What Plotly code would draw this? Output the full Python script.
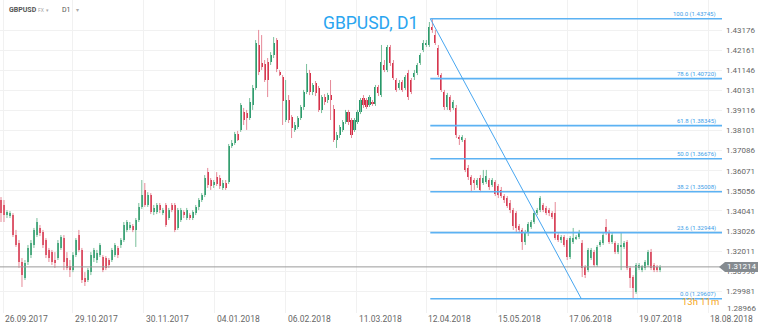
import plotly.graph_objects as go

# ---------------- data ----------------
opens = [1.3459,1.3434,1.3383,1.3378,1.3383,1.3282,1.3242,1.3146,1.3065,1.3146,
         1.3181,1.3232,1.3282,1.3318,1.3297,1.3257,1.3207,1.3196,1.3156,1.3166,
         1.3217,1.3267,1.3166,1.3126,1.3105,1.3181,1.3282,1.3207,1.3065,1.3055,
         1.3095,1.3166,1.3156,1.3181,1.3171,1.3166,1.3156,1.3156,1.3181,1.3217,
         1.3232,1.3257,1.3308,1.3318,1.3328,1.3308,1.3358,1.3424,1.3510,1.3434,
         1.3484,1.3398,1.3398,1.3434,1.3393,1.3434,1.3368,1.3434,1.3434,1.3318,
         1.3358,1.3398,1.3368,1.3383,1.3368,1.3393,1.3424,1.3459,1.3484,1.3600,
         1.3560,1.3535,1.3575,1.3570,1.3520,1.3545,1.3550,1.3732,1.3747,1.3792,
         1.3813,1.3904,1.3898,1.3873,1.3939,1.4025,1.4242,1.4151,1.4146,1.4156,
         1.4156,1.4191,1.4267,1.4105,1.4080,1.3863,1.3964,1.3878,1.3813,1.3828,
         1.3873,1.3929,1.4005,1.4100,1.4005,1.4050,1.4025,1.3914,1.3979,1.3964,
         1.3989,1.3919,1.3762,1.3787,1.3813,1.3853,1.3904,1.3863,1.3813,1.3853,
         1.3904,1.3974,1.3964,1.3939,1.3954,1.3944,1.4030,1.3989,1.4141,1.4116,
         1.4232,1.4151,1.4065,1.4025,1.4055,1.4025,1.4100,1.4065,1.4080,1.4100,
         1.4151,1.4217,1.4242,1.4242,1.4333,1.4292,1.4227,1.4090,1.4005,1.3929,
         1.3979,1.3924,1.3924,1.3777,1.3762,1.3762,1.3621,1.3575,1.3560,1.3535,
         1.3570,1.3545,1.3550,1.3560,1.3535,1.3550,1.3530,1.3510,1.3479,1.3469,
         1.3444,1.3408,1.3393,1.3328,1.3308,1.3247,1.3292,1.3323,1.3348,1.3393,
         1.3408,1.3434,1.3419,1.3408,1.3393,1.3393,1.3282,1.3257,1.3272,1.3257,
         1.3171,1.3247,1.3267,1.3272,1.3242,1.3121,1.3105,1.3166,1.3196,1.3131,
         1.3232,1.3242,1.3323,1.3297,1.3247,1.3242,1.3196,1.3222,1.3222,1.3247,
         1.3116,1.3070,1.2995,1.3116,1.3105,1.3116,1.3131,1.3196,1.3131,1.3121,
         1.3105]
highs = [1.3474,1.3459,1.3408,1.3403,1.3393,1.3308,1.3257,1.3166,1.3156,1.3232,
         1.3257,1.3318,1.3368,1.3333,1.3308,1.3267,1.3217,1.3207,1.3196,1.3257,
         1.3282,1.3282,1.3196,1.3156,1.3196,1.3267,1.3308,1.3217,1.3095,1.3116,
         1.3196,1.3217,1.3207,1.3242,1.3181,1.3176,1.3166,1.3217,1.3242,1.3227,
         1.3267,1.3348,1.3358,1.3348,1.3338,1.3368,1.3444,1.3560,1.3545,1.3499,
         1.3494,1.3434,1.3444,1.3444,1.3419,1.3444,1.3419,1.3444,1.3444,1.3419,
         1.3419,1.3408,1.3419,1.3393,1.3408,1.3434,1.3469,1.3494,1.3585,1.3621,
         1.3570,1.3560,1.3600,1.3585,1.3560,1.3560,1.3742,1.3762,1.3803,1.3808,
         1.3949,1.3924,1.3914,1.3974,1.4040,1.4267,1.4318,1.4292,1.4166,1.4176,
         1.4206,1.4282,1.4277,1.4116,1.4090,1.4065,1.3989,1.3888,1.3853,1.3883,
         1.3939,1.4015,1.4146,1.4116,1.4050,1.4060,1.4035,1.3989,1.3994,1.4000,
         1.4065,1.3939,1.3803,1.3838,1.3863,1.3914,1.3914,1.3873,1.3873,1.3914,
         1.3974,1.3989,1.3974,1.3989,1.3964,1.4040,1.4040,1.4242,1.4166,1.4242,
         1.4242,1.4166,1.4075,1.4065,1.4065,1.4090,1.4116,1.4075,1.4116,1.4151,
         1.4201,1.4267,1.4267,1.4358,1.43745,1.4318,1.4242,1.4100,1.4015,1.4000,
         1.3989,1.3964,1.3939,1.3787,1.3787,1.3772,1.3636,1.3585,1.3570,1.3570,
         1.3585,1.3611,1.3611,1.3570,1.3570,1.3560,1.3540,1.3525,1.3489,1.3479,
         1.3459,1.3419,1.3403,1.3338,1.3318,1.3308,1.3348,1.3358,1.3403,1.3419,
         1.3479,1.3444,1.3429,1.3419,1.3403,1.3449,1.3292,1.3282,1.3282,1.3267,
         1.3277,1.3318,1.3282,1.3308,1.3257,1.3131,1.3217,1.3217,1.3207,1.3232,
         1.3257,1.3292,1.3363,1.3308,1.3292,1.3252,1.3242,1.3297,1.3252,1.3257,
         1.3126,1.3080,1.3141,1.3141,1.3131,1.3156,1.3207,1.3212,1.3141,1.3131,
         1.3131]
lows = [1.3348,1.3348,1.3368,1.3368,1.3272,1.3222,1.3116,1.3020,1.3055,1.3131,
        1.3166,1.3217,1.3272,1.3277,1.3217,1.3166,1.3146,1.3131,1.3116,1.3156,
        1.3207,1.3105,1.3105,1.3070,1.3095,1.3171,1.3196,1.3040,1.3025,1.3045,
        1.3080,1.3146,1.3141,1.3171,1.3095,1.3105,1.3116,1.3146,1.3171,1.3166,
        1.3217,1.3247,1.3297,1.3308,1.3297,1.3222,1.3348,1.3414,1.3424,1.3424,
        1.3388,1.3383,1.3388,1.3393,1.3383,1.3323,1.3358,1.3398,1.3297,1.3308,
        1.3348,1.3368,1.3358,1.3358,1.3358,1.3383,1.3408,1.3449,1.3474,1.3520,
        1.3510,1.3520,1.3530,1.3515,1.3510,1.3510,1.3540,1.3722,1.3737,1.3757,
        1.3803,1.3838,1.3813,1.3863,1.3914,1.4015,1.4090,1.4116,1.4055,1.3979,
        1.4141,1.4176,1.4105,1.4085,1.3838,1.3853,1.3848,1.3772,1.3803,1.3818,
        1.3863,1.3914,1.3994,1.3989,1.3989,1.3984,1.3904,1.3898,1.3939,1.3949,
        1.3863,1.3752,1.3722,1.3772,1.3803,1.3843,1.3838,1.3772,1.3803,1.3843,
        1.3893,1.3924,1.3919,1.3929,1.3934,1.3934,1.3984,1.3979,1.4105,1.4105,
        1.4136,1.4065,1.4005,1.4015,1.4005,1.4015,1.3964,1.3994,1.4065,1.4090,
        1.4141,1.4206,1.4232,1.4232,1.4303,1.4242,1.4080,1.4005,1.3914,1.3914,
        1.3904,1.3914,1.3772,1.3737,1.3752,1.3600,1.3560,1.3499,1.3510,1.3520,
        1.3499,1.3535,1.3540,1.3510,1.3525,1.3479,1.3469,1.3469,1.3444,1.3419,
        1.3393,1.3308,1.3297,1.3292,1.3207,1.3232,1.3277,1.3313,1.3338,1.3383,
        1.3398,1.3398,1.3383,1.3378,1.3363,1.3257,1.3247,1.3242,1.3222,1.3156,
        1.3161,1.3237,1.3257,1.3262,1.3070,1.3065,1.3095,1.3156,1.3121,1.3121,
        1.3222,1.3232,1.3282,1.3237,1.3237,1.3186,1.3186,1.3105,1.3212,1.3105,
        1.3015,1.29607,1.2985,1.3105,1.3095,1.3105,1.3121,1.3105,1.3095,1.3095,
        1.3095]
closes = [1.3393,1.3383,1.3398,1.3393,1.3282,1.3232,1.3146,1.3080,1.3141,1.3217,
          1.3242,1.3308,1.3348,1.3292,1.3232,1.3181,1.3166,1.3146,1.3146,1.3242,
          1.3272,1.3146,1.3116,1.3105,1.3181,1.3257,1.3207,1.3055,1.3045,1.3105,
          1.3181,1.3207,1.3191,1.3232,1.3105,1.3116,1.3131,1.3207,1.3232,1.3181,
          1.3257,1.3333,1.3348,1.3333,1.3308,1.3358,1.3424,1.3484,1.3434,1.3484,
          1.3398,1.3419,1.3434,1.3408,1.3408,1.3333,1.3408,1.3408,1.3308,1.3408,
          1.3408,1.3383,1.3408,1.3368,1.3398,1.3424,1.3459,1.3484,1.3570,1.3535,
          1.3530,1.3550,1.3540,1.3530,1.3545,1.3520,1.3732,1.3747,1.3792,1.3762,
          1.3939,1.3863,1.3873,1.3954,1.4025,1.4252,1.4105,1.4131,1.4065,1.4065,
          1.4191,1.4252,1.4121,1.4095,1.3959,1.3964,1.3863,1.3823,1.3838,1.3873,
          1.3929,1.4005,1.4100,1.4005,1.4040,1.4000,1.3914,1.3979,1.3954,1.3989,
          1.3964,1.3762,1.3787,1.3828,1.3853,1.3904,1.3853,1.3787,1.3863,1.3904,
          1.3964,1.3939,1.3929,1.3979,1.3944,1.4030,1.4000,1.4156,1.4116,1.4232,
          1.4151,1.4075,1.4015,1.4050,1.4015,1.4080,1.3979,1.4005,1.4100,1.4141,
          1.4191,1.4252,1.4252,1.4333,1.4318,1.4252,1.4090,1.4015,1.3929,1.3989,
          1.3914,1.3954,1.3787,1.3772,1.3777,1.3610,1.3575,1.3535,1.3545,1.3560,
          1.3510,1.3570,1.3580,1.3525,1.3560,1.3489,1.3484,1.3479,1.3459,1.3429,
          1.3408,1.3328,1.3318,1.3308,1.3247,1.3292,1.3338,1.3348,1.3393,1.3408,
          1.3469,1.3408,1.3393,1.3393,1.3373,1.3267,1.3257,1.3272,1.3232,1.3171,
          1.3267,1.3267,1.3272,1.3292,1.3116,1.3080,1.3207,1.3207,1.3131,1.3222,
          1.3247,1.3282,1.3292,1.3247,1.3282,1.3196,1.3232,1.3232,1.3242,1.3116,
          1.3065,1.3015,1.3131,1.3131,1.3126,1.3146,1.3196,1.3116,1.3105,1.3105,
          1.31214]

date_labels = ["26.09.2017", "29.10.2017", "30.11.2017", "04.01.2018", "06.02.2018",
               "11.03.2018", "12.04.2018", "15.05.2018", "17.06.2018", "19.07.2018",
               "18.08.2018"]
date_bar_index = [0.67, 24.0, 47.67, 71.33, 95.0, 118.67, 142.0, 165.33, 189.0, 212.33, 236.0]

price_ticks = [1.43176, 1.42161, 1.41146, 1.40131, 1.39116, 1.38101, 1.37086, 1.36071,
               1.35056, 1.34041, 1.33026, 1.32011, 1.30996, 1.29981, 1.28966]

fib_ratios = ["100.0", "78.6", "61.8", "50.0", "38.2", "23.6", "0.0"]
fib_prices = [1.43745, 1.40720, 1.38345, 1.36676, 1.35008, 1.32944, 1.29607]
fib_start_bar = 143.3
fib_end_bar = 193.7
last_price = 1.31214
symbol_title = "GBPUSD, D1"
countdown = "13h 11m"

# ---------------- figure ----------------
n = len(closes)
idx = list(range(n))
Y_MIN, Y_MAX = 1.28885, 1.44691
X_MIN, X_MAX = -1/3, 240.67

UP_BODY, DN_BODY = "#25976a", "#d52c45"
UP_WICK, DN_WICK = "#79bf9b", "#e68a98"

fig = go.Figure()

# wicks
for up, col in ((True, UP_WICK), (False, DN_WICK)):
    wx, wy = [], []
    for i in idx:
        if (closes[i] >= opens[i]) == up:
            wx += [i, i, None]
            wy += [lows[i], highs[i], None]
    fig.add_trace(go.Scatter(x=wx, y=wy, mode="lines", line=dict(color=col, width=1),
                             hoverinfo="skip", showlegend=False))

# bodies
base = [min(o, c) for o, c in zip(opens, closes)]
height = [max(abs(c - o), 0.00025) for o, c in zip(opens, closes)]
colors = [UP_BODY if c >= o else DN_BODY for o, c in zip(opens, closes)]
fig.add_trace(go.Bar(x=idx, y=height, base=base, width=0.68,
                     marker=dict(color=colors, line=dict(width=0)),
                     showlegend=False, hoverinfo="skip"))

FIB_COL = "#5cb2f3"
shapes = []
# current price line
shapes.append(dict(type="line", xref="paper", yref="y", x0=0, x1=1, y0=last_price, y1=last_price,
                   line=dict(color="#9a9a9a", width=1), layer="above"))
# fib lines
for p in fib_prices:
    shapes.append(dict(type="line", xref="x", yref="y", x0=fib_start_bar, x1=X_MAX, y0=p, y1=p,
                       line=dict(color=FIB_COL, width=1.6), layer="above"))
# diagonal of fib tool
shapes.append(dict(type="line", xref="x", yref="y", x0=fib_start_bar, x1=fib_end_bar,
                   y0=fib_prices[0], y1=fib_prices[-1],
                   line=dict(color="#47a6f0", width=1), layer="above"))

# price tag (paper coords)
PLOT_W = 722.0
PLOT_H = 313.0
yp = (last_price - Y_MIN) / (Y_MAX - Y_MIN)
hh = 5.0 / PLOT_H
tip = 719 / PLOT_W
bl = 725 / PLOT_W
br = 758 / PLOT_W
shapes.append(dict(type="path", xref="paper", yref="paper",
                   path=f"M {tip} {yp} L {bl} {yp+hh} L {br} {yp+hh} L {br} {yp-hh} L {bl} {yp-hh} Z",
                   fillcolor="#858b90", line=dict(width=0), layer="above"))

ann = []
for lab, xi in zip(date_labels, date_bar_index):
    ann.append(dict(x=xi, y=0, xref="x", yref="paper", text=lab, showarrow=False,
                    xanchor="left", yanchor="top", yshift=1,
                    font=dict(family="Roboto", size=8.5, color="#666666")))
for r, p in zip(fib_ratios, fib_prices):
    ann.append(dict(x=718 / PLOT_W, y=p, xref="paper", yref="y", text=f"{r} ({p:.5f})",
                    showarrow=False, xanchor="right", yanchor="bottom", yshift=-1,
                    font=dict(family="Roboto", size=6, color="#3d9ee8")))
ann.append(dict(x=(bl + br) / 2, y=yp, xref="paper", yref="paper", text=f"{last_price:.5f}",
                showarrow=False, xanchor="center", yanchor="middle",
                font=dict(family="Roboto", size=8, color="#ffffff")))
# lowest price label sits slightly above the plot edge, as in the reference
ann.append(dict(x=1, y=1 - 308 / PLOT_H, xref="paper", yref="paper",
                text=f"{price_ticks[-1]:.5f}", showarrow=False, xanchor="left",
                yanchor="middle", xshift=3,
                font=dict(family="Roboto", size=8, color="#666666")))
ann.append(dict(x=321 / PLOT_W, y=1 - 23 / PLOT_H, xref="paper", yref="paper", text=symbol_title,
                showarrow=False, xanchor="left", yanchor="middle",
                font=dict(family="Roboto", size=17.5, color="#2aa5f0")))
ann.append(dict(x=721 / PLOT_W, y=1 - 301 / PLOT_H, xref="paper", yref="paper", text=countdown,
                showarrow=False, xanchor="right", yanchor="middle",
                font=dict(family="Roboto", size=9.5, color="#f5a623")))
# header
ann.append(dict(x=7 / PLOT_W, y=1 - 10 / PLOT_H, xref="paper", yref="paper", text="<b>GBPUSD</b>",
                showarrow=False, xanchor="left", yanchor="middle",
                font=dict(family="Roboto", size=7, color="#555555")))
ann.append(dict(x=36 / PLOT_W, y=1 - 10 / PLOT_H, xref="paper", yref="paper", text="FX  \u25be",
                showarrow=False, xanchor="left", yanchor="middle",
                font=dict(family="Roboto", size=5, color="#aaaaaa")))
ann.append(dict(x=60 / PLOT_W, y=1 - 10 / PLOT_H, xref="paper", yref="paper", text="D1",
                showarrow=False, xanchor="left", yanchor="middle",
                font=dict(family="Roboto", size=7, color="#555555")))
ann.append(dict(x=74 / PLOT_W, y=1 - 10 / PLOT_H, xref="paper", yref="paper", text="\u25be",
                showarrow=False, xanchor="left", yanchor="middle",
                font=dict(family="Roboto", size=6, color="#aaaaaa")))

fig.update_layout(
    width=760, height=325,
    margin=dict(l=0, r=38, t=0, b=12),
    paper_bgcolor="white", plot_bgcolor="white",
    barmode="overlay", bargap=0,
    showlegend=False,
    shapes=shapes, annotations=ann,
    xaxis=dict(range=[X_MIN, X_MAX], tickvals=date_bar_index, showticklabels=False,
               showgrid=True, gridcolor="#f1f1f1", gridwidth=1, zeroline=False,
               showline=False, ticks=""),
    yaxis=dict(range=[Y_MIN, Y_MAX], side="right", tickvals=price_ticks[:-1],
               ticktext=[f"{t:.5f}" for t in price_ticks[:-1]],
               tickfont=dict(family="Roboto", size=8, color="#666666"),
               showgrid=True, gridcolor="#f1f1f1", gridwidth=1, zeroline=False,
               showline=False, ticks="", ticklabelstandoff=3),
)

fig.write_html("out.html")
